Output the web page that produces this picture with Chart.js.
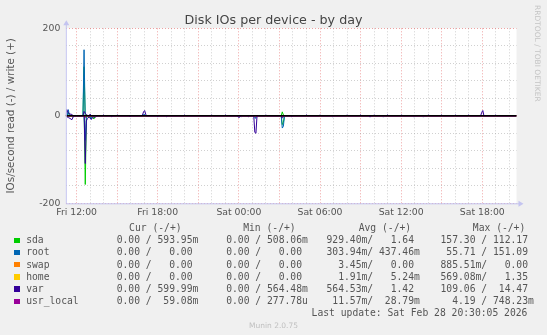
<!DOCTYPE html>
<html>
<head>
<meta charset="utf-8">
<script src="https://cdn.jsdelivr.net/npm/chart.js@4"></script>
<style>
  body { margin: 0; background: #f0f0f0; width: 547px; height: 335px; overflow: hidden; position: relative; font-family: "DejaVu Sans", sans-serif; }
  #c { position: absolute; left: 0; top: 0; }
  #title { position: absolute; left: 0; top: 12px; width: 547px; text-align: center; font-size: 12.7px; line-height: 15px; color: #444; }
  #rrd { position: absolute; left: 533px; top: 5px; writing-mode: vertical-rl; font-size: 7.5px; color: #c4c4c4; white-space: nowrap; }
  .mono { position: absolute; white-space: pre; font-family: "DejaVu Sans Mono", monospace; font-size: 9.7px; line-height: 12.2px; color: #555; }
  .sw { position: absolute; width: 5.6px; height: 5.6px; }
  #munin { position: absolute; left: 0; width: 547px; top: 321px; text-align: center; font-size: 7.5px; line-height: 9px; color: #c0c0c0; }
</style>
</head>
<body>
<canvas id="c" width="547" height="335"></canvas>
<div id="title">Disk IOs per device - by day</div>
<div id="rrd">RRDTOOL / TOBI OETIKER</div>
<div id="legend"></div>
<div id="munin">Munin 2.0.75</div>
<script>
// hours counted from Fri 00:00
const hourMin = 11.2
const hourMax = 44.53

const xTickHours = [12, 18, 24, 30, 36, 42]
const xTickLabels = ['Fri 12:00', 'Fri 18:00', 'Sat 00:00', 'Sat 06:00', 'Sat 12:00', 'Sat 18:00']
const yTickValues = [-200, -100, 0, 100, 200]

// [hour, IOs/s] ; write is +, read is -
const sdaWrite = [[11.2,0],[11.31,0],[11.39,9],[11.47,0],[12.47,0],[12.55,112],[12.63,4],[12.71,0],[27.13,0],[27.21,9],[27.29,2],[27.37,0],[44.53,0]]
const sdaRead = [[11.2,0],[11.43,0],[11.51,-2],[11.59,0],[12.56,0],[12.64,-157],[12.72,-6],[12.8,0],[13.13,0],[13.21,-5],[13.29,-7],[13.37,0],[27.13,0],[27.21,-20],[27.29,-15],[27.37,0],[44.53,0]]
const rootWrite = [[11.2,0],[11.31,0],[11.39,14],[11.47,0],[12.47,0],[12.55,151],[12.63,3],[12.71,0],[16.91,0],[16.99,4],[17.07,0],[44.53,0]]
const rootRead = [[11.2,0],[11.65,0],[11.73,-3],[11.81,0],[12.56,0],[12.64,-56],[12.72,-4],[12.8,0],[12.99,0],[13.07,-8],[13.15,0],[24.13,0],[24.21,-2],[24.29,0],[25.14,0],[25.22,-6],[25.3,0],[27.13,0],[27.21,-28],[27.29,-24],[27.37,0],[30.86,0],[30.94,-3],[31.02,0],[34.6,0],[34.68,-3],[34.76,0],[36.88,0],[36.96,-3],[37.04,0],[37.56,0],[37.64,-3],[37.72,0],[44.53,0]]
const swapWrite = [[11.2,0],[44.53,0]]
const swapRead = [[11.2,0],[11.43,0],[11.51,-0.9],[11.59,0],[44.53,0]]
const homeWrite = [[11.2,0],[12.56,0],[12.64,1.35],[12.72,0],[44.53,0]]
const homeRead = [[11.2,0],[12.56,0],[12.64,-0.57],[12.72,0],[44.53,0]]
const varWrite = [[11.2,0],[11.27,14.5],[11.39,6],[11.51,4],[11.65,3],[11.75,0],[12.47,0],[12.55,10],[12.64,6],[12.72,3],[12.85,0],[12.92,0],[13.0,4],[13.08,0],[13.92,0],[14.0,2],[14.08,0],[14.92,0],[15.0,2],[15.08,0],[16.85,0],[16.95,9],[17.03,12],[17.15,0],[19.92,0],[20.0,2],[20.08,0],[21.92,0],[22.0,2],[22.08,0],[22.92,0],[23.0,2],[23.08,0],[25.92,0],[26.0,2],[26.08,0],[28.92,0],[29.0,2],[29.08,0],[29.92,0],[30.0,2],[30.08,0],[31.92,0],[32.0,2],[32.08,0],[32.92,0],[33.0,2],[33.08,0],[33.92,0],[34.0,2],[34.08,0],[34.92,0],[35.0,2],[35.08,0],[35.97,0],[36.05,2],[36.13,0],[37.92,0],[38.0,2],[38.08,0],[38.92,0],[39.0,2],[39.08,0],[39.92,0],[40.0,2],[40.08,0],[40.92,0],[41.0,2],[41.08,0],[41.88,0],[41.96,8],[42.04,12],[42.12,0],[42.92,0],[43.0,2],[43.08,0],[44.53,0]]
const varRead = [[11.2,0],[11.27,-2],[11.39,-4],[11.51,-6],[11.65,-9],[11.75,-2],[11.85,0],[12.56,0],[12.64,-109],[12.72,-12],[12.8,-6],[12.92,-3],[13.07,-8],[13.21,-4],[13.29,-2],[13.4,-3],[13.5,0],[14.52,0],[14.6,-2],[14.68,0],[15.87,0],[15.95,-2],[16.03,0],[17.92,0],[18.0,-2],[18.08,0],[18.58,0],[18.66,-2],[18.74,0],[23.86,0],[23.94,-3],[24.08,-3],[24.16,0],[24.62,0],[24.7,-2],[24.78,0],[25.1,0],[25.18,-38],[25.26,-40],[25.34,0],[27.13,0],[27.21,-5],[27.29,-3],[27.37,0],[27.83,0],[27.91,-2],[27.99,0],[33.62,0],[33.7,-3],[33.78,0],[44.53,0]]
const usrLocalWrite = [[11.2,0],[12.56,0],[12.64,0.75],[12.72,0],[44.53,0]]
const usrLocalRead = [[11.2,0],[12.56,0],[12.64,-4.19],[12.72,0],[25.26,0],[25.34,-3],[25.42,0],[27.13,0],[27.21,-2],[27.29,0],[35.97,0],[36.05,-1],[36.13,0],[44.53,0]]

const devices = ['sda', 'root', 'swap', 'home', 'var', 'usr_local']
const colors = ['#00cc00', '#0066b3', '#ff8000', '#ffcc00', '#330099', '#990099']
const writes = [sdaWrite, rootWrite, swapWrite, homeWrite, varWrite, usrLocalWrite]
const reads = [sdaRead, rootRead, swapRead, homeRead, varRead, usrLocalRead]

// legend table text
const colHeads = ['Cur (-/+)', 'Min (-/+)', 'Avg (-/+)', 'Max (-/+)']
const curText = ['  0.00 / 593.95m', '  0.00 /   0.00 ', '  0.00 /   0.00 ', '  0.00 /   0.00 ', '  0.00 / 599.99m', '  0.00 /  59.08m']
const minText = ['  0.00 / 508.06m', '  0.00 /   0.00 ', '  0.00 /   0.00 ', '  0.00 /   0.00 ', '  0.00 / 564.48m', '  0.00 / 277.78u']
const avgText = ['929.40m/   1.64 ', '303.94m/ 437.46m', '  3.45m/   0.00 ', '  1.91m/   5.24m', '564.53m/   1.42 ', ' 11.57m/  28.79m']
const maxText = ['157.30 / 112.17 ', ' 55.71 / 151.09 ', '885.51m/   0.00 ', '569.08m/   1.35 ', '109.06 /  14.47 ', '  4.19 / 748.23m']
const lastUpdate = 'Last update: Sat Feb 28 20:30:05 2026'

const red = 'rgba(225,90,90,0.55)'
const grey = 'rgba(150,150,150,0.45)'

let sets = []
devices.forEach((d, i) => {
  sets.push({ label: d + ' write', data: writes[i], borderColor: colors[i], order: 6 - i })
  sets.push({ label: d + ' read', data: reads[i], borderColor: colors[i], order: 6 - i })
})
sets.push({ label: 'zero', data: [[hourMin, 0], [hourMax, 0]], borderColor: '#000', borderWidth: 1.6, order: 0 })

const frame = {
  id: 'frame',
  beforeDraw(chart) {
    const { ctx, chartArea: a } = chart
    ctx.save()
    ctx.fillStyle = '#fff'
    ctx.fillRect(a.left, a.top, a.right - a.left, a.bottom - a.top)
    ctx.restore()
  },
  afterDraw(chart) {
    const { ctx, chartArea: a } = chart
    ctx.save()
    ctx.strokeStyle = '#c4c4f0'
    ctx.fillStyle = '#c4c4f0'
    ctx.lineWidth = 1
    ctx.beginPath()
    ctx.moveTo(a.left + 0.5, a.bottom)
    ctx.lineTo(a.left + 0.5, a.top - 4)
    ctx.moveTo(a.left, a.bottom + 0.5)
    ctx.lineTo(a.right + 3, a.bottom + 0.5)
    ctx.stroke()
    ctx.beginPath()
    ctx.moveTo(a.left - 2.5, a.top - 3)
    ctx.lineTo(a.left + 3.5, a.top - 3)
    ctx.lineTo(a.left + 0.5, a.top - 8)
    ctx.fill()
    ctx.beginPath()
    ctx.moveTo(a.right + 2, a.bottom - 2.5)
    ctx.lineTo(a.right + 2, a.bottom + 3.5)
    ctx.lineTo(a.right + 7, a.bottom + 0.5)
    ctx.fill()
    ctx.restore()
  }
}

Chart.defaults.font.family = 'DejaVu Sans'

const ioChart = new Chart(document.getElementById('c'), {
  type: 'line',
  data: { datasets: sets },
  options: {
    responsive: false,
    animation: false,
    layout: { padding: { left: 0, top: 28.3, right: 30.5, bottom: 0 } },
    plugins: { legend: { display: false }, tooltip: { enabled: false } },
    elements: { point: { radius: 0 }, line: { borderWidth: 1, tension: 0 } },
    scales: {
      x: {
        type: 'linear', min: hourMin, max: hourMax,
        afterFit: s => { s.height = 131.7 },
        ticks: {
          stepSize: 1, includeBounds: false, autoSkip: false, maxRotation: 0, maxTicksLimit: 100, padding: 4,
          color: '#555', font: { size: 9.3 },
          callback: v => {
            const h = Math.round(v)
            if (Math.abs(v - h) > 1e-6) return null
            const k = xTickHours.indexOf(h)
            return k < 0 ? '' : xTickLabels[k]
          }
        },
        grid: {
          drawTicks: false, lineWidth: 1,
          color: c => (Math.round(c.tick.value) % 3 === 0 ? red : grey)
        },
        border: { display: false, dash: [1, 2] }
      },
      y: {
        min: -200, max: 200,
        afterFit: s => { s.width = 65.8 },
        ticks: {
          stepSize: 20, maxTicksLimit: 100, padding: 5.5, color: '#555', font: { size: 9.3 },
          callback: v => (yTickValues.includes(Math.round(v)) ? String(Math.round(v)) : '')
        },
        grid: {
          drawTicks: false, lineWidth: 1,
          color: c => (Math.round(c.tick.value) % 100 === 0 ? red : grey)
        },
        border: { display: false, dash: [1, 2] },
        title: { display: true, text: 'IOs/second read (-) / write (+)', color: '#555', font: { size: 10.4 }, padding: { top: 4.8, bottom: 0 } }
      }
    }
  },
  plugins: [frame]
})

// legend below the graph
const leg = document.getElementById('legend')
const rowTop = 234.2
const lineH = 12.2
const colLeft = [105, 214.5, 326.5, 440.5]
const headLeft = [129.1, 243.2, 358.7, 472.8]
const cols = [curText, minText, avgText, maxText]

function put(text, left, top) {
  const el = document.createElement('div')
  el.className = 'mono'
  el.textContent = text
  el.style.left = left + 'px'
  el.style.top = top + 'px'
  leg.appendChild(el)
}

colHeads.forEach((h, j) => put(h, headLeft[j], rowTop - lineH))
devices.forEach((d, i) => {
  const top = rowTop + i * lineH
  const sw = document.createElement('div')
  sw.className = 'sw'
  sw.style.background = colors[i]
  sw.style.left = '14px'
  sw.style.top = (top + 3.3) + 'px'
  leg.appendChild(sw)
  put(d, 26.2, top)
  cols.forEach((c, j) => put(c[i], colLeft[j], top))
})
put(lastUpdate, 311.6, rowTop + 6 * lineH)
</script>
</body>
</html>
